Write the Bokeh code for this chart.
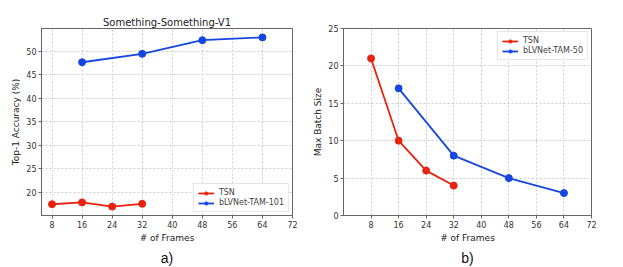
from bokeh.plotting import figure
from bokeh.layouts import row
from bokeh.models import Title, FixedTicker, Range1d, Legend, LegendItem
from bokeh.embed import file_html
from bokeh.resources import INLINE

frames_tsn = [8, 16, 24, 32]
frames_blv = [16, 32, 48, 64]
acc_tsn = [17.4, 17.8, 16.9, 17.5]
acc_blv = [47.7, 49.5, 52.4, 53.0]
batch_tsn = [21, 10, 6, 4]
batch_blv = [17, 8, 5, 3]
x_ticks = [8, 16, 24, 32, 40, 48, 56, 64, 72]
acc_ticks = [20, 25, 30, 35, 40, 45, 50]
batch_ticks = [0, 5, 10, 15, 20, 25]

RED = "#e8220e"
BLUE = "#1646e0"
FONT = "DejaVu Sans"


def style(p, xt, yt):
    p.xaxis.ticker = FixedTicker(ticks=xt)
    p.yaxis.ticker = FixedTicker(ticks=yt)
    for ax in (p.xaxis[0], p.yaxis[0]):
        ax.major_label_text_font = FONT
        ax.major_label_text_font_size = "8px"
        ax.major_label_text_color = "#333333"
        ax.axis_label_text_font = FONT
        ax.axis_label_text_font_size = "9px"
        ax.axis_label_text_font_style = "normal"
        ax.axis_label_text_color = "#222222"
        ax.major_tick_out = 3
        ax.major_tick_in = 0
        ax.minor_tick_out = 0
        ax.minor_tick_in = 0
        ax.axis_line_color = "#666666"
        ax.major_tick_line_color = "#666666"
        ax.major_label_standoff = 2
        ax.axis_label_standoff = 2
    p.outline_line_color = "#666666"
    p.outline_line_alpha = 1
    p.xgrid.grid_line_dash = "2 2"
    p.ygrid.grid_line_dash = "2 2"
    p.xgrid.grid_line_color = "#cccccc"
    p.ygrid.grid_line_color = "#cccccc"
    p.background_fill_color = "white"
    p.border_fill_color = "white"


def make_legend(items, loc):
    return Legend(items=items, location=loc, label_text_font=FONT,
                  label_text_font_size="8px", glyph_width=16, glyph_height=8,
                  label_height=8, spacing=1, padding=4, margin=3,
                  border_line_color="#cccccc", label_standoff=5)


# Left plot
p1 = figure(width=310, height=267, output_backend="svg", toolbar_location=None,
            x_range=Range1d(5.2, 72), y_range=Range1d(15.0, 54.9),
            min_border_left=41, min_border_right=18, min_border_top=28,
            min_border_bottom=51)
p1.title.text = "Something-Something-V1"
p1.title.text_font = FONT
p1.title.text_font_size = "10px"
p1.title.text_font_style = "normal"
p1.title.align = "center"
p1.title.text_color = "#222222"
p1.title.offset = 0
p1.title.standoff = 2
style(p1, x_ticks, acc_ticks)
p1.xaxis.axis_label = "# of Frames"
p1.yaxis.axis_label = "Top-1 Accuracy (%)"
r1a = p1.line(frames_tsn, acc_tsn, color=RED, line_width=1.8)
s1a = p1.scatter(frames_tsn, acc_tsn, color=RED, size=7)
r1b = p1.line(frames_blv, acc_blv, color=BLUE, line_width=1.8)
s1b = p1.scatter(frames_blv, acc_blv, color=BLUE, size=7)
p1.add_layout(make_legend([LegendItem(label="TSN", renderers=[r1a, s1a]),
                           LegendItem(label="bLVNet-TAM-101", renderers=[r1b, s1b])],
                          "bottom_right"))
cap1 = Title(text="a)", align="center", text_font="Liberation Sans",
             text_font_size="14px", text_font_style="normal", text_color="#111111",
             standoff=4, offset=0)
p1.add_layout(cap1, "below")

# Right plot
p2 = figure(width=313, height=267, output_backend="svg", toolbar_location=None,
            x_range=Range1d(0, 72), y_range=Range1d(0, 25),
            min_border_left=29, min_border_right=32, min_border_top=28,
            min_border_bottom=52)
style(p2, x_ticks, batch_ticks)
p2.xaxis.axis_label = "# of Frames"
p2.yaxis.axis_label = "Max Batch Size"
r2a = p2.line(frames_tsn, batch_tsn, color=RED, line_width=1.8)
s2a = p2.scatter(frames_tsn, batch_tsn, color=RED, size=7)
r2b = p2.line(frames_blv, batch_blv, color=BLUE, line_width=1.8)
s2b = p2.scatter(frames_blv, batch_blv, color=BLUE, size=7)
p2.add_layout(make_legend([LegendItem(label="TSN", renderers=[r2a, s2a]),
                           LegendItem(label="bLVNet-TAM-50", renderers=[r2b, s2b])],
                          "top_right"))
cap2 = Title(text="b)", align="center", text_font="Liberation Sans",
             text_font_size="14px", text_font_style="normal", text_color="#111111",
             standoff=4, offset=0)
p2.add_layout(cap2, "below")

layout = row(p1, p2, spacing=0)
open("out.html", "w").write(file_html(layout, INLINE))
